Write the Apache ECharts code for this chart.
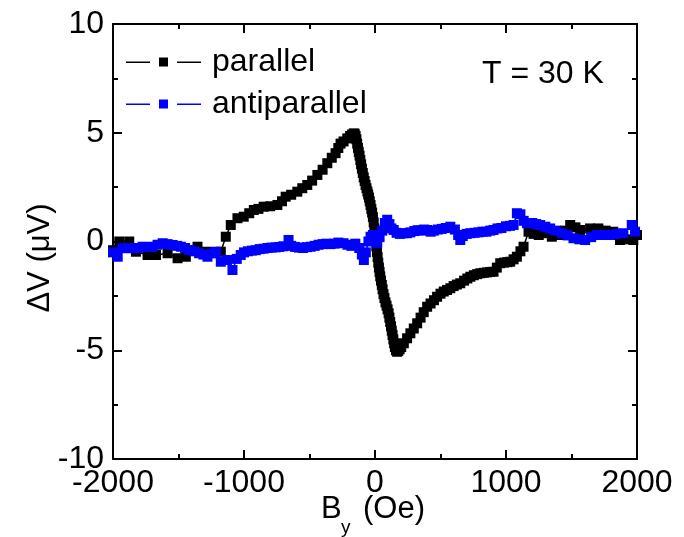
<!DOCTYPE html>
<html>
<head>
<meta charset="utf-8">
<script src="https://cdn.jsdelivr.net/npm/echarts@6/dist/echarts.min.js"></script>
<style>html,body{margin:0;padding:0;background:#fff}#c{width:684px;height:537px}</style>
</head>
<body>
<div id="c"></div>
<script>
// Data
const seriesNames = ['parallel', 'antiparallel'];
const xTicks = [-2000, -1000, 0, 1000, 2000];
const yTicks = [-10, -5, 0, 5, 10];

const parX = [-2000,-1952,-1876,-1825,-1736,-1672,-1583,-1507,-1444,-1355,-1291,-1177,-1139,-1101,-1050,-1002,-960,-925,-890,-850,-800,-745,-710,-682,-640,-593,-555,-517,-480,-440,-400,-364,-330,-301,-280,-263,-240,-212,-190,-175,-162,-155,-148,-142,-136,-130,-124,-118,-112,-106,-100,-93,-86,-79,-72,-65,-58,-52,-46,-40,-34,-28,-22,-16,-10,-5,0,5,10,15,20,25,30,35,40,46,52,58,65,72,80,88,96,104,110,116,122,128,134,140,146,152,160,169,178,188,200,220,245,270,296,322,348,372,398,424,450,474,500,525,550,575,600,625,651,680,705,728,755,780,804,830,855,880,905,930,956,985,1010,1032,1058,1083,1110,1134,1172,1210,1250,1286,1350,1400,1450,1490,1530,1566,1642,1705,1760,1819,1870,1920,1972,2000];
const parY = [-0.4,0.0,0.0,-0.47,-0.62,-0.62,-0.54,-0.77,-0.7,-0.24,-0.47,-0.47,0.22,0.76,1.07,1.14,1.3,1.45,1.5,1.6,1.62,1.68,1.85,2.06,2.15,2.29,2.45,2.6,2.8,3.06,3.3,3.6,3.85,4.06,4.3,4.5,4.6,4.74,4.85,4.92,4.97,4.95,4.85,4.7,4.5,4.3,4.12,3.95,3.75,3.55,3.35,3.15,2.95,2.78,2.6,2.45,2.3,2.16,2.02,1.85,1.68,1.5,1.33,1.12,0.88,0.6,0.33,0.05,-0.22,-0.48,-0.72,-0.97,-1.2,-1.4,-1.6,-1.8,-2.0,-2.2,-2.42,-2.6,-2.8,-2.95,-3.12,-3.3,-3.5,-3.7,-3.9,-4.1,-4.3,-4.5,-4.68,-4.85,-5.0,-5.07,-5.03,-4.95,-4.85,-4.68,-4.45,-4.22,-4.0,-3.76,-3.5,-3.25,-3.0,-2.85,-2.7,-2.54,-2.4,-2.3,-2.23,-2.15,-2.05,-1.98,-1.92,-1.8,-1.7,-1.62,-1.55,-1.5,-1.46,-1.44,-1.42,-1.4,-1.39,-1.2,-1.0,-0.97,-0.95,-0.93,-0.82,-0.7,-0.45,-0.24,0.45,0.35,0.3,0.38,0.22,0.3,0.5,0.76,0.65,0.53,0.6,0.6,0.5,0.45,0.07,0.1,0.07,0.3];

const antiX = [-2000,-1964,-1926,-1888,-1850,-1812,-1774,-1735,-1697,-1660,-1621,-1583,-1545,-1510,-1482,-1450,-1419,-1380,-1343,-1310,-1279,-1245,-1215,-1177,-1130,-1088,-1055,-1025,-1000,-970,-940,-910,-880,-850,-820,-790,-760,-730,-700,-660,-640,-610,-580,-550,-520,-491,-460,-430,-400,-370,-340,-310,-280,-240,-210,-180,-150,-120,-100,-85,-70,-50,-34,-15,0,17,35,55,75,93,110,125,143,165,190,215,245,270,300,325,350,375,398,425,450,480,510,540,575,610,635,651,670,700,728,760,790,820,850,880,905,935,965,1000,1030,1058,1083,1110,1135,1160,1200,1230,1261,1300,1337,1380,1426,1470,1515,1560,1604,1650,1693,1745,1794,1845,1896,1960,1985];
const antiY = [-0.5,-0.7,-0.31,-0.3,-0.31,-0.3,-0.24,-0.26,-0.24,-0.15,-0.08,-0.12,-0.16,-0.2,-0.24,-0.3,-0.39,-0.45,-0.54,-0.6,-0.7,-0.55,-0.47,-0.93,-0.85,-1.31,-0.8,-0.62,-0.5,-0.45,-0.42,-0.4,-0.35,-0.33,-0.3,-0.28,-0.27,-0.25,-0.22,0.07,-0.2,-0.25,-0.28,-0.3,-0.26,-0.24,-0.2,-0.15,-0.12,-0.1,-0.12,-0.1,-0.05,-0.08,-0.15,-0.2,-0.1,-0.3,-0.6,-0.85,-0.5,0.0,0.22,0.3,0.1,-0.08,0.2,0.5,0.85,1.0,0.8,0.6,0.53,0.4,0.35,0.38,0.38,0.42,0.48,0.52,0.5,0.55,0.53,0.45,0.5,0.55,0.58,0.62,0.68,0.55,0.3,0.07,0.25,0.35,0.38,0.4,0.42,0.45,0.45,0.5,0.53,0.6,0.62,0.7,0.72,0.76,1.3,1.25,0.95,0.84,0.85,0.8,0.76,0.68,0.6,0.5,0.38,0.28,0.15,0.1,0.07,0.2,0.3,0.3,0.3,0.35,0.38,0.76,0.45];

const colors = ['#000000', '#0000ff'];
const FONT = '"Liberation Sans", Arial, sans-serif';

function pairs(xs, ys) { return xs.map((x, i) => [x, ys[i]]); }

const chart = echarts.init(document.getElementById('c'), null, {renderer: 'canvas'});

const axisLine = {show: true, onZero: false, lineStyle: {color: '#000', width: 2}};
const axisTick = {show: true, inside: true, length: 9, lineStyle: {color: '#000', width: 2}};
const minorTick = {show: true, splitNumber: 2, length: 5, lineStyle: {color: '#000', width: 2}};
const legendIcon = 'path://M0,4 h24 v1.5 h-24 z M33,0 h9 v9 h-9 z M51,4 h24 v1.5 h-24 z';

const option = {
  animation: false,
  backgroundColor: '#fff',
  grid: {left: 113, right: 47, top: 24, bottom: 78, containLabel: false},
  legend: {
    data: seriesNames.map(n => ({name: n, icon: legendIcon})),
    orient: 'vertical',
    left: 121, top: 41,
    itemWidth: 75, itemHeight: 9, itemGap: 10,
    textStyle: {fontFamily: FONT, fontSize: 32, color: '#000', padding: [0, 0, 0, 6]},
    selectedMode: false
  },
  xAxis: [
    {type: 'value', min: xTicks[0], max: xTicks[xTicks.length-1], interval: 1000, position: 'bottom',
     axisLine, axisTick, minorTick, splitLine: {show: false},
     axisLabel: {fontFamily: FONT, fontSize: 32, color: '#000', margin: 8, formatter: v => String(v)}},
    {type: 'value', min: xTicks[0], max: xTicks[xTicks.length-1], interval: 1000, position: 'top',
     axisLine, axisTick, minorTick, splitLine: {show: false}, axisLabel: {show: false}}
  ],
  yAxis: [
    {type: 'value', min: yTicks[0], max: yTicks[yTicks.length-1], interval: 5, position: 'left',
     axisLine, axisTick, minorTick, splitLine: {show: false},
     axisLabel: {fontFamily: FONT, fontSize: 32, color: '#000', margin: 9, formatter: v => String(v)}},
    {type: 'value', min: yTicks[0], max: yTicks[yTicks.length-1], interval: 5, position: 'right',
     axisLine, axisTick, minorTick, splitLine: {show: false}, axisLabel: {show: false}}
  ],
  graphic: [
    {type: 'text', left: 482, top: 58, style: {text: 'T = 30 K', font: '32px ' + FONT, fill: '#000'}},
    {type: 'text', x: 40, y: 258, rotation: Math.PI/2, style: {text: 'ΔV (μV)', font: '31px ' + FONT, fill: '#000', align: 'center', verticalAlign: 'middle'}},
    {type: 'text', left: 321, top: 494, style: {text: 'B', font: '31px ' + FONT, fill: '#000'}},
    {type: 'text', left: 341, top: 518, style: {text: 'y', font: '19px ' + FONT, fill: '#000'}},
    {type: 'text', left: 363, top: 494, style: {text: '(Oe)', font: '31px ' + FONT, fill: '#000'}}
  ],
  series: [
    {name: seriesNames[0], type: 'line', data: pairs(parX, parY), color: colors[0],
     symbol: 'rect', symbolSize: 10, showSymbol: true, showAllSymbol: true, sampling: 'none',
     lineStyle: {width: 1.5, color: colors[0]}, itemStyle: {color: colors[0]}, z: 2},
    {name: seriesNames[1], type: 'line', data: pairs(antiX, antiY), color: colors[1],
     symbol: 'rect', symbolSize: 10, showSymbol: true, showAllSymbol: true, sampling: 'none',
     lineStyle: {width: 1.5, color: colors[1]}, itemStyle: {color: colors[1]}, z: 3}
  ]
};
chart.setOption(option);
</script>
</body>
</html>
